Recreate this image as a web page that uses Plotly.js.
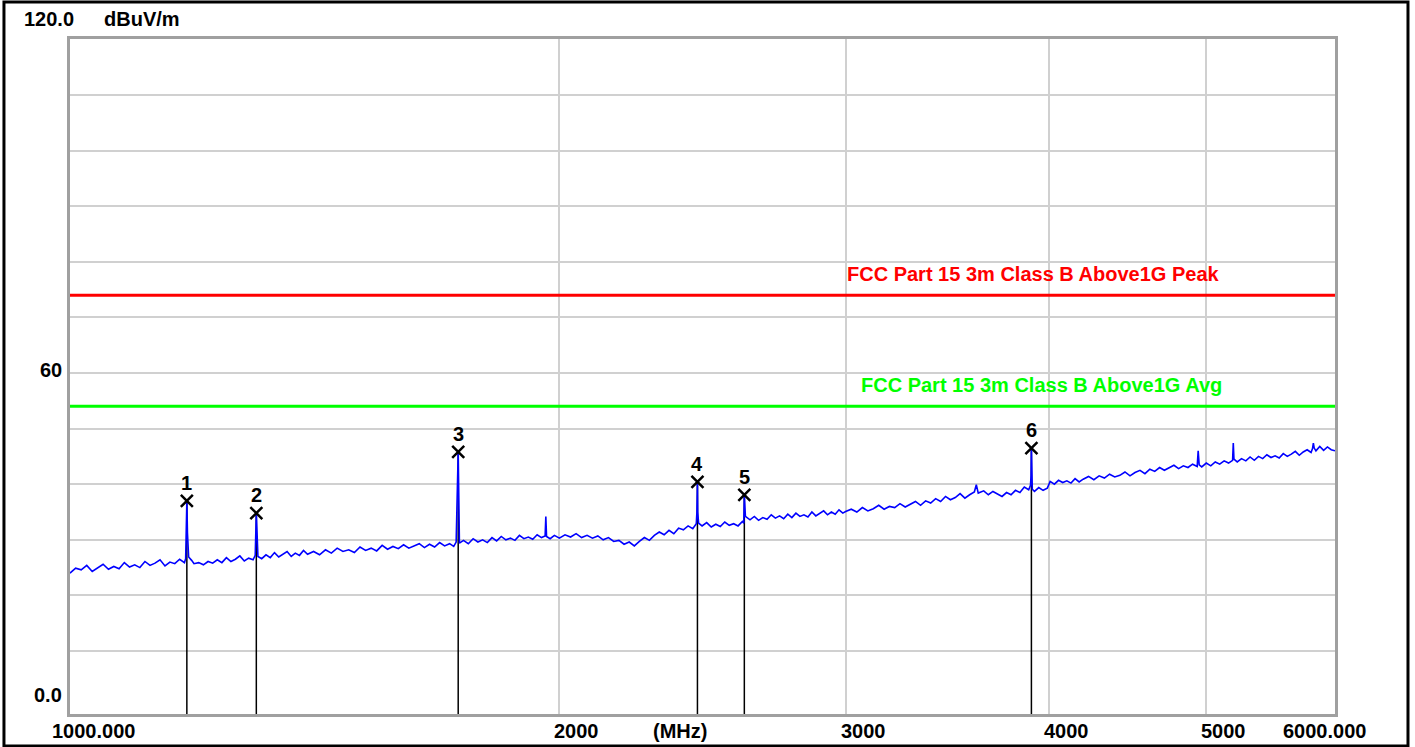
<!DOCTYPE html>
<html>
<head>
<meta charset="utf-8">
<script src="https://cdn.plot.ly/plotly-3.0.1.min.js"></script>
<style>html,body{margin:0;padding:0;background:#fff;}#chart{width:1415px;height:747px;}</style>
</head>
<body>
<div id="chart"></div>
<script>
// ---- data ----
const traceFreqMHz = [
1000,1008,1016,1024,1032,1040,1048,1056,1064,1072,1080,1088,1096,1104,1112,1120,1128,1136,1144,1152,1160,1168,1176,1178,1180,1181,1183,1188,1192,1200,1208,1216,1224,1232,1240,1248,1256,1264,1272,1280,1288,1296,1300,1302,1303,1305,1312,1320,1328,1336,1344,1352,1360,1368,1376,1384,1392,1400,
1412,1424,1436,1448,1460,1472,1484,1496,1508,1520,1532,1544,1556,1568,1580,1592,1604,1616,1628,1640,1652,1664,1676,1688,1700,1712,1722,1728,1733,1734,1736,1746,1758,1770,1782,1794,1806,1818,1830,1842,1854,1866,1878,1890,1902,1914,1926,1938,1950,1960,1962,1964,1974,1986,2000,
2016,2032,2048,2064,2080,2096,2112,2128,2144,2160,2176,2192,2208,2224,2240,2256,2272,2288,2304,2320,2336,2352,2368,2384,2400,2416,2428,2430,2432,2433,2436,2448,2464,2480,2496,2512,2528,2544,2560,2576,2592,2597,2599,2600,2603,2620,2636,2652,2668,2684,2700,2716,2732,2748,2764,2780,2796,2812,2828,2844,2860,2876,2892,2908,2924,2940,2956,2972,2988,3000,
3024,3048,3072,3096,3120,3144,3168,3192,3216,3240,3264,3288,3312,3336,3360,3384,3408,3432,3456,3480,3504,3528,3552,3576,3600,3610,3620,3648,3672,3696,3720,3744,3768,3792,3816,3840,3864,3888,3898,3901,3903,3904,3908,3920,3944,3968,3992,4008,4032,4056,4080,4104,4128,4152,4176,4200,
4232,4264,4296,4328,4360,4392,4424,4456,4488,4520,4552,4584,4616,4648,4680,4712,4744,4776,4808,4840,4872,4904,4936,4943,4950,4968,5000,5032,5064,5096,5128,5160,5190,5195,5200,5224,5256,5288,5320,5352,5384,5416,5448,5480,5512,5544,5576,5608,5640,5672,5704,5736,5768,5800,5812,5819,5826,5840,5872,5904,5936,5968,6000
];
const traceLevel = [
24.0,24.9,24.6,25.4,24.3,24.9,25.6,24.7,25.2,24.8,25.9,25.1,25.5,25.0,26.1,25.4,25.8,26.4,25.3,26.0,25.7,26.5,25.9,26.6,37.0,31.2,26.9,26.3,25.7,25.9,25.5,26.1,25.8,26.4,25.9,26.8,26.1,26.5,27.1,26.2,26.7,26.4,27.2,34.8,30.2,27.0,26.6,27.3,26.8,27.7,26.9,27.4,27.9,27.0,27.6,27.2,28.1,27.4,
27.9,27.3,28.2,27.6,28.5,27.9,28.2,27.7,28.7,28.1,28.5,28.0,29.0,28.3,28.8,28.4,29.1,28.5,28.9,29.3,28.6,29.2,28.7,29.5,28.9,29.3,28.8,29.6,45.8,41.6,29.4,29.9,29.3,30.2,29.6,30.0,29.5,30.4,29.8,30.6,30.0,30.3,29.9,30.8,30.2,30.5,30.1,30.9,30.4,30.7,34.2,30.6,30.2,30.8,30.3,
30.9,30.5,31.1,30.4,30.8,30.3,30.7,30.0,30.4,29.7,29.9,29.2,29.6,28.9,29.7,30.4,29.9,30.8,31.4,30.9,31.7,31.1,32.1,31.8,32.5,32.0,32.9,34.8,40.4,35.0,33.0,32.5,33.1,32.3,32.8,32.4,33.2,32.6,32.9,32.5,33.3,33.0,38.1,35.4,34.2,33.6,34.2,33.5,34.0,33.7,34.5,33.9,34.3,33.8,34.6,34.0,34.8,34.2,34.5,34.1,35.0,34.3,34.7,35.2,34.5,35.0,34.6,35.4,34.8,35.1,
35.5,35.0,35.8,35.2,35.6,36.2,35.5,36.0,35.8,36.5,35.9,36.4,36.9,36.2,37.0,36.6,37.4,36.9,37.8,37.2,37.6,38.3,37.5,38.1,38.6,39.9,38.4,38.8,38.1,38.7,38.3,37.8,38.5,38.1,38.9,38.5,39.5,39.0,39.8,41.5,46.5,40.0,39.1,38.7,39.4,38.9,39.3,40.5,40.0,40.7,40.3,40.6,40.2,41.0,40.4,40.9,
41.4,40.8,41.5,41.1,41.8,41.3,41.6,42.2,41.5,42.1,42.5,41.9,42.7,42.3,43.0,42.5,42.9,43.4,42.8,43.3,43.0,43.6,43.2,46.0,43.5,43.1,43.8,43.3,44.0,43.6,44.2,43.8,44.3,47.4,44.5,44.0,44.6,44.2,44.9,44.3,45.0,44.6,45.3,44.8,45.1,44.7,45.5,45.0,45.4,45.9,45.2,45.8,46.2,45.7,46.4,47.4,46.5,46.0,46.8,46.1,46.7,46.2,46.0
];
const markerFreqMHz = [1180, 1302, 1733, 2432, 2599, 3903];
const markerLevel   = [37.0, 34.8, 45.8, 40.4, 38.1, 46.5];
const markerLabels  = ["1", "2", "3", "4", "5", "6"];
const limitPeak = 74;
const limitAvg = 54;
const limitPeakName = "FCC Part 15 3m Class B Above1G Peak";
const limitAvgName = "FCC Part 15 3m Class B Above1G Avg";
const freqStart = 1000, freqStop = 6000;
const freqGrid = [2000, 3000, 4000, 5000];
const freqTickLabels = ["2000", "3000", "4000", "5000"];
const levelGrid = [10, 20, 30, 40, 50, 60, 70, 80, 90, 100, 110];
const yMin = -1.33, yMax = 120.07;

// ---- build ----
const FONT = 'Liberation Sans, Arial, sans-serif';
const stemX = [], stemY = [];
markerFreqMHz.forEach((f, i) => { stemX.push(f, f, null); stemY.push(markerLevel[i], yMin, null); });

const data = [
  {x: stemX, y: stemY, mode: 'lines', line: {color: '#000000', width: 1.5}, hoverinfo: 'skip'},
  {x: [freqStart, freqStop], y: [limitPeak, limitPeak], mode: 'lines', line: {color: '#ff0000', width: 3}},
  {x: [freqStart, freqStop], y: [limitAvg, limitAvg], mode: 'lines', line: {color: '#00ff00', width: 3}},
  {x: traceFreqMHz, y: traceLevel, mode: 'lines', line: {color: '#0000ff', width: 1.6}},
  {x: markerFreqMHz, y: markerLevel, mode: 'markers',
   marker: {symbol: 'x-thin', size: 12, line: {color: '#000000', width: 2.5}, color: '#000000'}}
];

const ann = [];
const bold = (size, color) => ({family: FONT, size: size, color: color || '#000000', weight: 700});
markerFreqMHz.forEach((f, i) => ann.push({
  x: Math.log10(f), y: markerLevel[i], xref: 'x', yref: 'y', text: markerLabels[i],
  showarrow: false, yshift: 18, font: bold(20)
}));
freqGrid.forEach((f, i) => ann.push({
  x: Math.log10(f), y: 0, xref: 'x', yref: 'paper', text: freqTickLabels[i], showarrow: false,
  xanchor: 'left', yanchor: 'middle', xshift: -7, yshift: -17, font: bold(20)
}));
ann.push({x: Math.log10(freqStart), y: 0, xref: 'x', yref: 'paper', text: freqStart.toFixed(3), showarrow: false,
  xanchor: 'left', yanchor: 'middle', xshift: -20, yshift: -17, font: bold(20)});
ann.push({x: Math.log10(freqStop), y: 0, xref: 'x', yref: 'paper', text: freqStop.toFixed(3), showarrow: false,
  xanchor: 'right', yanchor: 'middle', xshift: 33, yshift: -17, font: bold(20)});
ann.push({x: 0.4822, y: 0, xref: 'paper', yref: 'paper', text: '(MHz)', showarrow: false,
  xanchor: 'center', yanchor: 'middle', yshift: -17, font: bold(20)});
ann.push({x: 0, y: 1, xref: 'paper', yref: 'paper', text: '120.0', showarrow: false,
  xanchor: 'left', yanchor: 'middle', xshift: -48, yshift: 20, font: bold(20)});
ann.push({x: 0, y: 1, xref: 'paper', yref: 'paper', text: 'dBuV/m', showarrow: false,
  xanchor: 'left', yanchor: 'middle', xshift: 32, yshift: 20, font: bold(20)});
ann.push({x: 0, y: 60, xref: 'paper', yref: 'y', text: '60', showarrow: false,
  xanchor: 'right', yanchor: 'middle', xshift: -6, yshift: 3, font: bold(20)});
ann.push({x: 0, y: 0, xref: 'paper', yref: 'y', text: '0.0', showarrow: false,
  xanchor: 'right', yanchor: 'middle', xshift: -6, yshift: 12, font: bold(20)});
ann.push({x: 0.762, y: limitPeak, xref: 'paper', yref: 'y', text: limitPeakName, showarrow: false,
  xanchor: 'center', yanchor: 'middle', yshift: 21, font: bold(20, '#ff0000')});
ann.push({x: 0.768, y: limitAvg, xref: 'paper', yref: 'y', text: limitAvgName, showarrow: false,
  xanchor: 'center', yanchor: 'middle', yshift: 21, font: bold(20, '#00ff00')});

const layout = {
  width: 1415, height: 747,
  margin: {l: 70, r: 80, t: 39, b: 33, pad: 0},
  paper_bgcolor: '#ffffff', plot_bgcolor: '#ffffff',
  showlegend: false,
  xaxis: {type: 'log', range: [Math.log10(freqStart), Math.log10(freqStop)], tickmode: 'array', tickvals: freqGrid,
    showticklabels: false, ticks: '', showgrid: true, gridcolor: '#d0d0d0', gridwidth: 2, zeroline: false,
    showline: true, mirror: true, linecolor: '#a0a0a0', linewidth: 3, fixedrange: true},
  yaxis: {range: [yMin, yMax], tickmode: 'array', tickvals: levelGrid, showticklabels: false, ticks: '',
    showgrid: true, gridcolor: '#d0d0d0', gridwidth: 2, zeroline: false,
    showline: true, mirror: true, linecolor: '#a0a0a0', linewidth: 3, fixedrange: true},
  shapes: [{type: 'rect', xref: 'paper', yref: 'paper', x0: -0.0522, x1: 1.0577, y0: -0.0474, y1: 1.0548,
    line: {color: '#000000', width: 3}, layer: 'above'}],
  annotations: ann
};
Plotly.newPlot('chart', data, layout, {staticPlot: true, displayModeBar: false});
</script>
</body>
</html>
